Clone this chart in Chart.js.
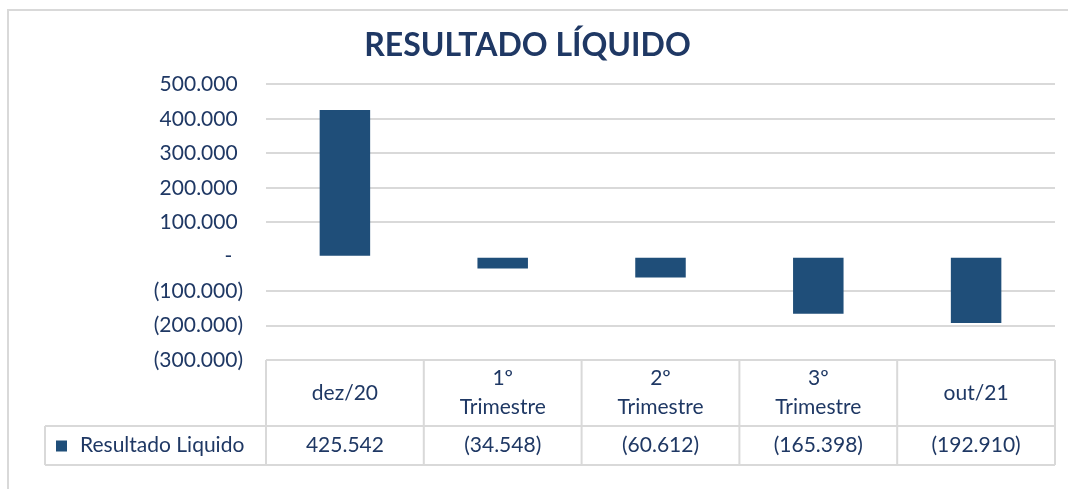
<!DOCTYPE html>
<html>
<head>
<meta charset="utf-8">
<script src="https://cdn.jsdelivr.net/npm/chart.js@4.4.1/dist/chart.umd.min.js"></script>
<style>
  html, body { margin: 0; padding: 0; background: #fff; }
  canvas { display: block; }
</style>
</head>
<body>
<canvas id="chart" width="1068" height="489"></canvas>
<script>
// dados do gráfico
const categories = [['dez/20'], ['1º', 'Trimestre'], ['2º', 'Trimestre'], ['3º', 'Trimestre'], ['out/21']];
const seriesName = 'Resultado Liquido';
const resultValues = [425542, -34548, -60612, -165398, -192910];
const yTicks = [500000, 400000, 300000, 200000, 100000, 0, -100000, -200000, -300000];

const barColor = '#1F4E79';
const textColor = '#1F3864';
const lineColor = '#d9d9d9';

function fmtNum(v) {
  const s = String(Math.abs(v)).replace(/\B(?=(\d{3})+(?!\d))/g, '.');
  return v < 0 ? '(' + s + ')' : s;
}

function fmtTick(v) {
  if (v === 0) return '-  ';
  return v > 0 ? fmtNum(v) + ' ' : fmtNum(v);
}

// moldura externa
const frame = {
  id: 'frame',
  beforeDraw(chart) {
    const ctx = chart.ctx;
    ctx.save();
    ctx.fillStyle = '#fff';
    ctx.fillRect(0, 0, chart.width, chart.height);
    ctx.strokeStyle = lineColor;
    ctx.lineWidth = 2;
    ctx.strokeRect(8, 10, chart.width + 20, chart.height + 20);
    ctx.restore();
  }
};

// tabela de dados abaixo do gráfico (como no Excel)
const dataTable = {
  id: 'dataTable',
  afterDraw(chart) {
    const { ctx, chartArea } = chart;
    const xs = chart.scales.x;
    const vals = chart.data.datasets[0].data;
    const n = categories.length;
    const colW = (chartArea.right - chartArea.left) / n;
    const top = chartArea.bottom;
    const mid = top + 66;
    const bot = mid + 39;
    const legLeft = 45;
    ctx.save();
    ctx.strokeStyle = lineColor;
    ctx.lineWidth = 2;
    ctx.beginPath();
    ctx.moveTo(chartArea.left, top); ctx.lineTo(chartArea.right, top);
    ctx.moveTo(legLeft, mid); ctx.lineTo(chartArea.right, mid);
    ctx.moveTo(legLeft, bot); ctx.lineTo(chartArea.right, bot);
    ctx.moveTo(legLeft, mid); ctx.lineTo(legLeft, bot);
    for (let i = 0; i <= n; i++) {
      const xx = chartArea.left + i * colW;
      ctx.moveTo(xx, top); ctx.lineTo(xx, bot);
    }
    ctx.stroke();

    ctx.fillStyle = textColor;
    ctx.font = '21px Lato';
    ctx.textAlign = 'center';
    ctx.textBaseline = 'middle';
    const lh = 29;
    categories.forEach((lines, i) => {
      const cx = xs.getPixelForValue(i);
      const y0 = (top + mid) / 2 - (lines.length - 1) * lh / 2;
      lines.forEach((t, j) => ctx.fillText(t, cx, y0 + j * lh));
      ctx.fillText(fmtNum(vals[i]), cx, (mid + bot) / 2);
    });

    // legenda
    const ly = (mid + bot) / 2;
    ctx.fillStyle = barColor;
    ctx.fillRect(56, ly - 5, 11, 11);
    ctx.fillStyle = textColor;
    ctx.textAlign = 'left';
    ctx.fillText(seriesName, 80, ly);
    ctx.restore();
  }
};

new Chart(document.getElementById('chart'), {
  type: 'bar',
  data: {
    labels: categories.map(c => c.join(' ')),
    datasets: [{
      label: seriesName,
      data: resultValues,
      backgroundColor: barColor,
      barPercentage: 0.32,
      categoryPercentage: 1
    }]
  },
  options: {
    responsive: false,
    animation: false,
    layout: { padding: { left: 0, right: 13, top: 0, bottom: 129 } },
    plugins: {
      legend: { display: false },
      tooltip: { enabled: false },
      title: {
        display: true,
        text: 'RESULTADO LÍQUIDO',
        color: textColor,
        font: { family: 'Lato', size: 32, weight: 'bold' },
        padding: { top: 26, bottom: 20 }
      }
    },
    scales: {
      x: { display: false },
      y: {
        min: -300000,
        max: 500000,
        afterBuildTicks(scale) { scale.ticks = yTicks.map(v => ({ value: v })); },
        afterFit(scale) { scale.width = 266; },
        border: { display: false },
        grid: {
          drawTicks: false,
          lineWidth: 2,
          color: ctx => (ctx.tick && ctx.tick.value === 0) ? 'rgba(0,0,0,0)' : lineColor
        },
        ticks: {
          padding: 23,
          color: textColor,
          font: { family: 'Lato', size: 21 },
          callback: v => fmtTick(v)
        }
      }
    }
  },
  plugins: [frame, dataTable]
});
</script>
</body>
</html>
